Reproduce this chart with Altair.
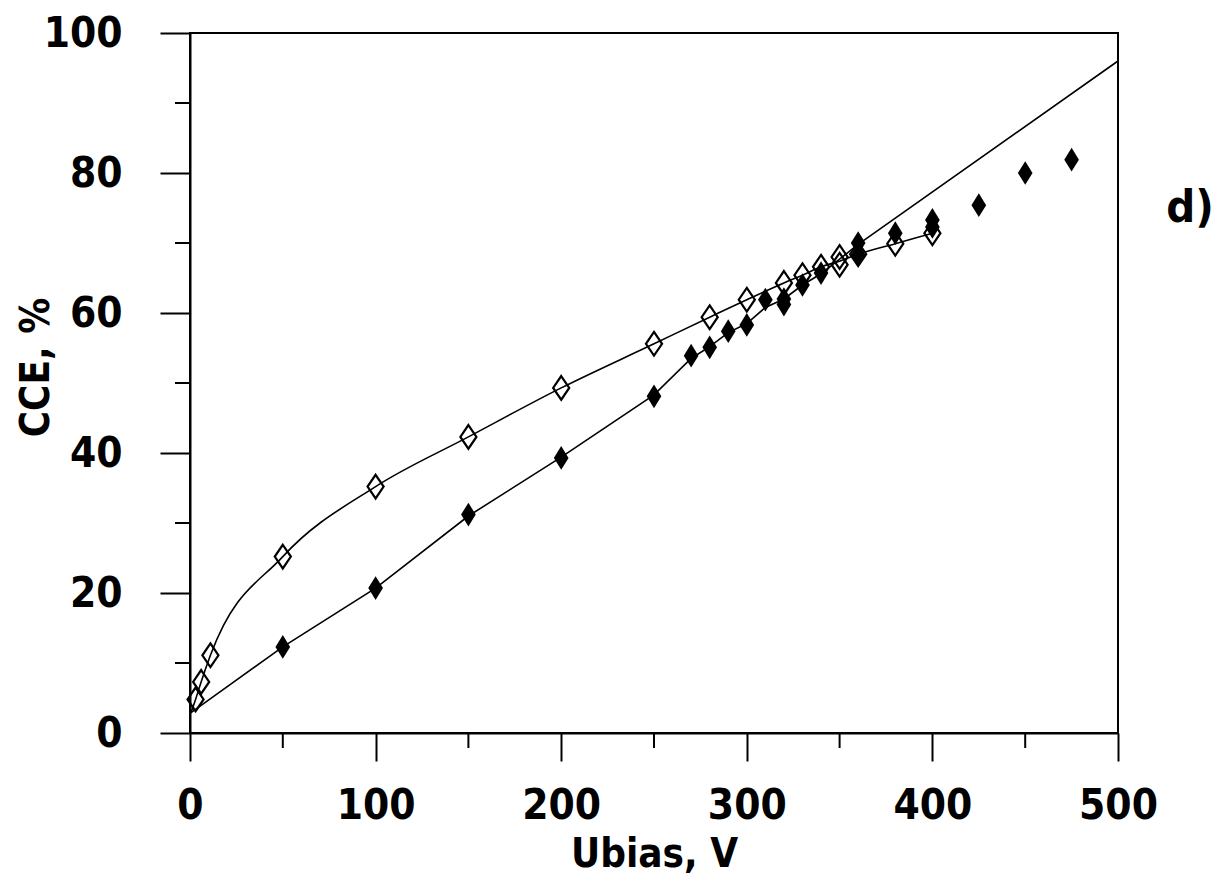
import altair as alt
import pandas as pd

# open diamonds
open_x = [3, 6, 11, 50, 100, 150, 200, 250, 280, 300, 320, 330, 340, 350, 350, 360, 380, 400]
open_y = [4.8, 7.3, 11.1, 25.2, 35.2, 42.3, 49.3, 55.6, 59.4, 61.9, 64.3, 65.4, 66.6, 68.0, 66.9, 68.4, 69.9, 71.4]
# smooth curve through open diamonds
curve_x = [0.5, 3, 6, 11, 50, 100, 150, 200, 250, 280, 300, 320, 330, 340, 350, 360, 380, 400]
curve_y = [2.9, 4.8, 7.3, 11.1, 25.2, 35.2, 42.3, 49.3, 55.6, 59.4, 61.9, 64.3, 65.4, 66.6, 67.4, 68.4, 69.9, 71.4]

# filled diamonds
filled_x = [50, 100, 150, 200, 250, 270, 280, 290, 300, 310, 320, 320, 330, 340, 360, 360, 380, 400, 400, 425, 450, 475]
filled_y = [12.3, 20.7, 31.2, 39.3, 48.1, 53.9, 55.1, 57.4, 58.3, 61.9, 61.2, 62.0, 64.0, 65.7, 68.3, 70.0, 71.4, 72.3, 73.3, 75.4, 80.0, 81.9]
# fitted line through filled diamonds
fit_x = [0, 50, 100, 150, 200, 250, 270, 280, 290, 300, 310, 320, 330, 340, 360, 500]
fit_y = [2.8, 12.3, 20.7, 31.0, 39.4, 48.3, 53.5, 55.2, 57.2, 58.5, 60.8, 62.0, 64.0, 65.6, 69.8, 96.0]

x_major = [0, 100, 200, 300, 400, 500]
x_minor = [50, 150, 250, 350, 450]
y_major = [0, 20, 40, 60, 80, 100]
y_minor = [10, 30, 50, 70, 90]

FONT = "'DejaVu Sans Condensed', 'Liberation Sans Narrow', 'Liberation Sans', sans-serif"

x_enc = alt.X("V:Q", scale=alt.Scale(domain=[0, 500], nice=False, zero=False),
              axis=alt.Axis(values=x_major, title="Ubias, V", tickSize=28, labelPadding=24,
                            titlePadding=8))
y_enc = alt.Y("CCE:Q", scale=alt.Scale(domain=[0, 100], nice=False, zero=False),
              axis=alt.Axis(values=y_major, title="CCE, %", tickSize=30, labelPadding=38,
                            titleX=-134, titleY=334))

open_df = pd.DataFrame({"V": open_x, "CCE": open_y})
curve_df = pd.DataFrame({"V": curve_x, "CCE": curve_y})
filled_df = pd.DataFrame({"V": filled_x, "CCE": filled_y})
fit_df = pd.DataFrame({"V": fit_x, "CCE": fit_y})
xminor_df = pd.DataFrame({"V": x_minor})
yminor_df = pd.DataFrame({"CCE": y_minor})

curve = alt.Chart(curve_df).mark_line(color="black", strokeWidth=1.6, interpolate="monotone").encode(
    x=x_enc, y=y_enc, order="V:Q")
fit = alt.Chart(fit_df).mark_line(color="black", strokeWidth=1.6).encode(
    x=x_enc, y=y_enc, order="V:Q")

filled_shape = "M0,-1L0.62,0L0,1L-0.62,0Z"
open_shape = "M0,-1L0.68,0L0,1L-0.68,0Z"

filled_pts = alt.Chart(filled_df).mark_point(shape=filled_shape, size=560, filled=True,
                                             color="black", opacity=1).encode(x=x_enc, y=y_enc)
open_pts = alt.Chart(open_df).mark_point(shape=open_shape, size=560, filled=False,
                                         stroke="black", strokeWidth=2.2, opacity=1).encode(x=x_enc, y=y_enc)

xminor = alt.Chart(xminor_df).mark_rule(color="black", strokeWidth=2).encode(
    x=x_enc, y=alt.value(700), y2=alt.value(715))
yminor = alt.Chart(yminor_df).mark_rule(color="black", strokeWidth=2).encode(
    y=y_enc, x=alt.value(-15), x2=alt.value(0))

label = alt.Chart(pd.DataFrame({"t": ["d)"]})).mark_text(
    font=FONT, fontSize=45, fontWeight="bold", color="black", align="center", baseline="middle"
).encode(text="t:N", x=alt.value(1000), y=alt.value(175))

chart = alt.layer(curve, fit, xminor, yminor, filled_pts, open_pts, label).properties(
    width=928, height=700,
    autosize=alt.AutoSizeParams(type="none"),
    padding={"left": 182, "top": 25, "right": 95, "bottom": 147},
    background="white",
).configure_view(stroke="black", strokeWidth=2).configure_axis(
    grid=False, domainColor="black", domainWidth=2, tickColor="black", tickWidth=2,
    labelColor="black", labelFont=FONT, labelFontSize=42, labelFontWeight="bold",
    titleColor="black", titleFont=FONT, titleFontSize=40, titleFontWeight="bold",
    labelOverlap=False, labelFlush=False,
)

chart.save("out.html", embed_options={"renderer": "svg", "actions": False})
